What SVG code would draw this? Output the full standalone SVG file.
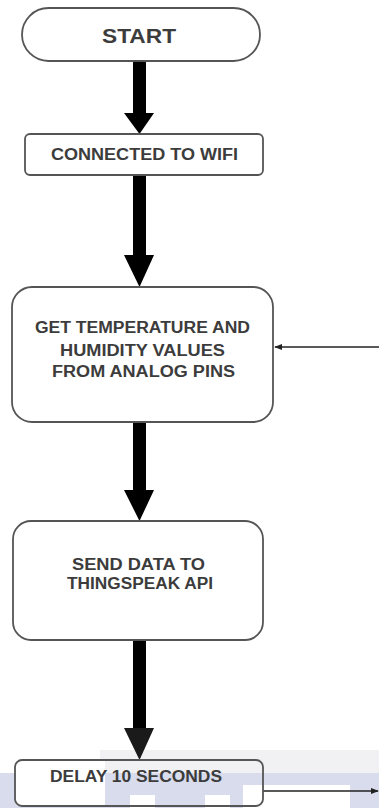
<svg xmlns="http://www.w3.org/2000/svg" width="379" height="808" viewBox="0 0 379 808">
  <style>
    .box { fill: #ffffff; stroke: #555555; stroke-width: 1.8; }
    .lbl { font-family: "Liberation Sans", Arial, sans-serif; font-weight: bold; fill: #3c3c3c; text-anchor: middle; }
    .shaft { fill: #000000; }
    .thin { stroke: #222222; stroke-width: 1.6; fill: none; }
  </style>
  <defs>
    <marker id="ah" viewBox="0 0 10 10" refX="9" refY="5" markerWidth="5" markerHeight="5" orient="auto">
      <path d="M0,1 L10,5 L0,9 Z" fill="#222222"/>
    </marker>
  </defs>

  <rect width="379" height="808" fill="#ffffff"/>
  <!-- watermark band -->
  <g id="watermark">
    <rect x="100" y="750" width="279" height="23" fill="#f1f1f4"/>
    <rect x="0" y="773" width="379" height="35" fill="#d8dced"/>
    <rect x="16" y="761" width="89" height="44" fill="#ffffff"/>
    <rect x="130" y="795" width="25" height="13" fill="#ffffff"/>
    <rect x="205" y="795" width="25" height="13" fill="#ffffff"/>
    <rect x="243" y="785" width="107" height="23" fill="#ffffff"/>
  </g>

  <g id="connectors">
    <!-- START -> WIFI -->
    <rect class="shaft" x="133" y="61" width="13" height="53"/>
    <path d="M124,113 L154,113 L139.5,134 Z"/>
    <!-- WIFI -> GET -->
    <rect class="shaft" x="133" y="175" width="13" height="81"/>
    <path d="M124,255 L154,255 L139.5,287 Z"/>
    <!-- GET -> SEND -->
    <rect class="shaft" x="133" y="422" width="13" height="69"/>
    <path d="M124,490 L154,490 L139.5,521 Z"/>
    <!-- SEND -> DELAY -->
    <rect class="shaft" x="133" y="640" width="13" height="89"/>
    <path d="M124,728 L154,728 L139.5,760 Z" fill="#1a1a1a"/>
    <!-- loop back into GET -->
    <line class="thin" x1="379" y1="347" x2="275" y2="347" marker-end="url(#ah)"/>
    <!-- DELAY out -->
    <line class="thin" x1="263" y1="791" x2="378" y2="791" marker-end="url(#ah)"/>
  </g>

  <g id="start">
    <rect class="box" x="22" y="8" width="238" height="53" rx="26.5" ry="26.5"/>
    <text class="lbl" x="139" y="43" font-size="21" textLength="74" lengthAdjust="spacingAndGlyphs">START</text>
  </g>

  <g id="wifi">
    <rect class="box" x="25" y="134" width="238" height="41" rx="5" ry="5"/>
    <text class="lbl" x="144.5" y="160" font-size="16" textLength="187" lengthAdjust="spacingAndGlyphs">CONNECTED TO WIFI</text>
  </g>

  <g id="get">
    <rect class="box" x="12" y="287" width="261" height="135" rx="20" ry="20"/>
    <text class="lbl" x="142.5" y="333" font-size="16" textLength="215" lengthAdjust="spacingAndGlyphs">GET TEMPERATURE AND</text>
    <text class="lbl" x="142.5" y="356" font-size="16" textLength="165" lengthAdjust="spacingAndGlyphs">HUMIDITY VALUES</text>
    <text class="lbl" x="143.5" y="377" font-size="16" textLength="183" lengthAdjust="spacingAndGlyphs">FROM ANALOG PINS</text>
  </g>

  <g id="send">
    <rect class="box" x="13" y="521" width="250" height="119" rx="18" ry="18"/>
    <text class="lbl" x="138.5" y="570" font-size="16" textLength="133" lengthAdjust="spacingAndGlyphs">SEND DATA TO</text>
    <text class="lbl" x="140" y="589" font-size="16" textLength="146" lengthAdjust="spacingAndGlyphs">THINGSPEAK API</text>
  </g>

  <g id="delay">
    <rect x="15" y="760" width="248" height="46" rx="7" ry="7" fill="none" stroke="#555555" stroke-width="1.8"/>
    <text class="lbl" x="136" y="782" font-size="16" textLength="172" lengthAdjust="spacingAndGlyphs">DELAY 10 SECONDS</text>
  </g>
</svg>
